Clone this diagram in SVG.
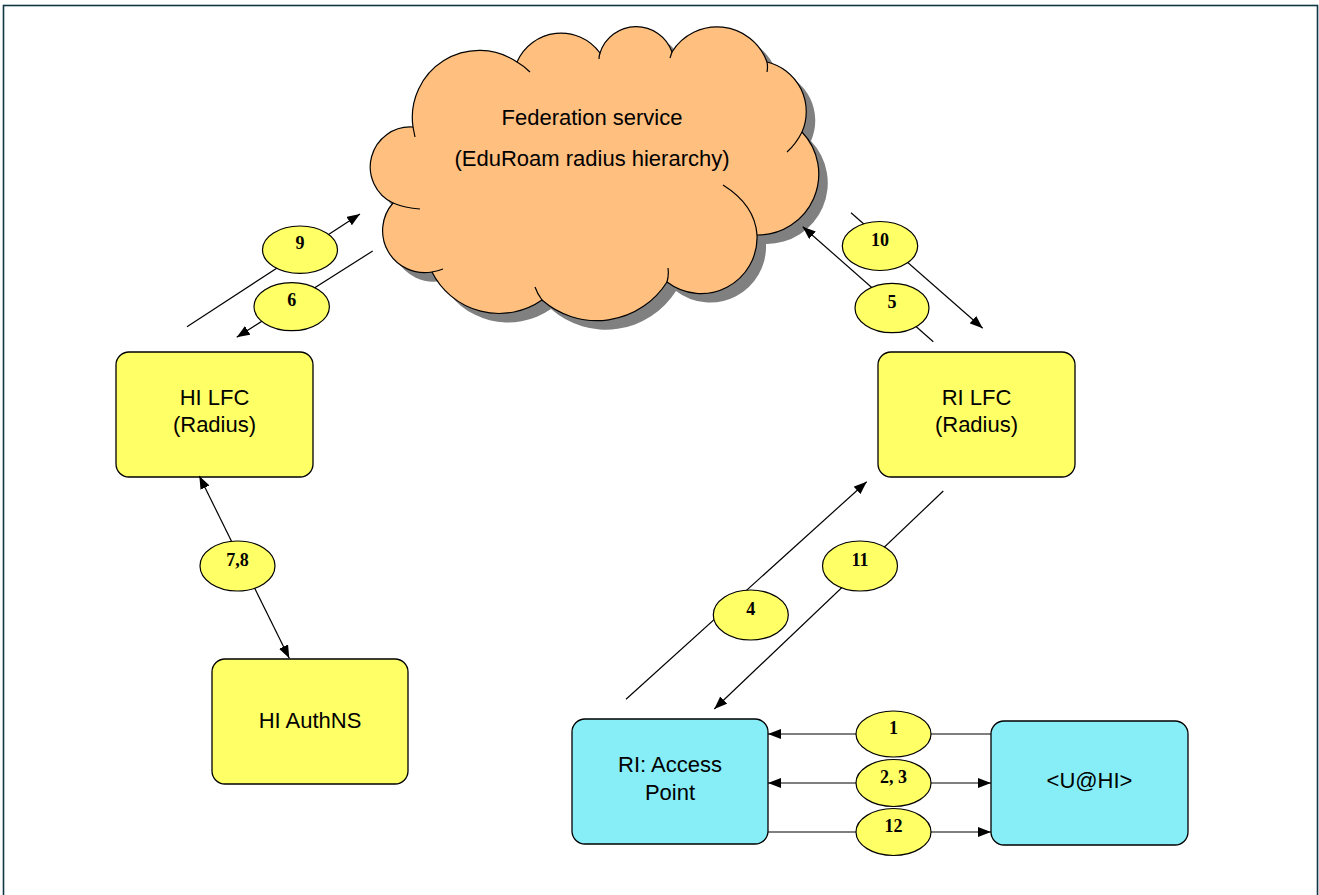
<svg xmlns="http://www.w3.org/2000/svg" width="1319" height="895" viewBox="0 0 1319 895">
<style>
.box{stroke:#000;stroke-width:1.3}
.yel{fill:#ffff66}
.cyan{fill:#87eef7}
.lbl{font-family:"Liberation Sans",Arial,sans-serif;font-size:22px;fill:#000;text-anchor:middle}
.num{font-family:"Liberation Serif","Times New Roman",serif;font-weight:bold;font-size:18px;fill:#000;text-anchor:middle}
.ell{fill:#ffff66;stroke:#000;stroke-width:1.2}
.con{fill:none;stroke:#000;stroke-width:1.2}
</style>
<defs>
<marker id="ah" viewBox="0 0 13 10" refX="13" refY="5" markerWidth="13" markerHeight="10" markerUnits="userSpaceOnUse" orient="auto-start-reverse">
<path d="M0,0 L13,5 L0,10 z" fill="#000"/>
</marker>
<path id="cloudShape" d="M413 127 A67 67 0 0 1 517 62 A48 48 0 0 1 600 53 A38 38 0 0 1 672 52 A53 53 0 0 1 767 62 A51 51 0 0 1 802 132 A61 61 0 0 1 757 235 A56 56 0 0 1 667 282 A83 83 0 0 1 542 300 A75 75 0 0 1 432 272 A42 42 0 0 1 393 203 A40 40 0 0 1 413 127 Z"/>
</defs>
<rect width="1319" height="895" fill="#fff"/>
<rect x="3.5" y="5.5" width="1314" height="900" fill="none" stroke="#0f3844" stroke-width="1.6"/>

<g id="cloud">
<use href="#cloudShape" transform="translate(9,9)" fill="#808080"/>
<use href="#cloudShape" fill="#ffbf7f" stroke="#000" stroke-width="1.2"/>
<path d="M413 127 Q414 132 415 137 M517 62 Q524 66 530 72 M600 53 Q599 56 599 59 M672 52 Q671 55 670 58 M767 62 Q768 67 767 72 M802 132 Q796 144 787 152 M757 235 Q755 205 723 185 M667 282 Q669 275 668 268 M542 300 Q537 293 535 287 M432 272 Q438 271 443 269 M393 203 Q405 208 420 209" fill="none" stroke="#000" stroke-width="1.2"/>
<text class="lbl" x="592" y="125">Federation service</text>
<text class="lbl" x="592" y="166">(EduRoam radius hierarchy)</text>
</g>

<g id="hi-lfc">
<rect class="box yel" x="116" y="352" width="197" height="125" rx="13"/>
<text class="lbl" x="214.5" y="405">HI LFC</text>
<text class="lbl" x="214.5" y="432">(Radius)</text>
</g>

<g id="ri-lfc">
<rect class="box yel" x="878" y="352" width="197" height="125" rx="13"/>
<text class="lbl" x="976.5" y="405">RI LFC</text>
<text class="lbl" x="976.5" y="432">(Radius)</text>
</g>

<g id="hi-authns">
<rect class="box yel" x="212" y="659" width="196" height="125" rx="13"/>
<text class="lbl" x="310" y="728">HI AuthNS</text>
</g>

<g id="ri-ap">
<rect class="box cyan" x="572" y="719" width="196" height="125" rx="13"/>
<text class="lbl" x="670" y="772">RI: Access</text>
<text class="lbl" x="670" y="800">Point</text>
</g>

<g id="user">
<rect class="box cyan" x="991" y="721" width="197" height="124" rx="13"/>
<text class="lbl" x="1089.5" y="788">&lt;U@HI&gt;</text>
</g>

<g id="connectors">
<line class="con" x1="187" y1="326.7" x2="360" y2="214" marker-end="url(#ah)"/>
<line class="con" x1="372.7" y1="251" x2="236.7" y2="337.3" marker-end="url(#ah)"/>
<line class="con" x1="851" y1="212.7" x2="982.7" y2="328.3" marker-end="url(#ah)"/>
<line class="con" x1="933.3" y1="341.7" x2="802.7" y2="226.7" marker-end="url(#ah)"/>
<line class="con" x1="626" y1="699.3" x2="866.7" y2="481.7" marker-end="url(#ah)"/>
<line class="con" x1="943.3" y1="491" x2="714.3" y2="709" marker-end="url(#ah)"/>
<line class="con" x1="199.3" y1="476" x2="289.3" y2="658.3" marker-start="url(#ah)" marker-end="url(#ah)"/>
<line class="con" x1="991" y1="734" x2="768" y2="734" marker-end="url(#ah)"/>
<line class="con" x1="768" y1="783" x2="991" y2="783" marker-start="url(#ah)" marker-end="url(#ah)"/>
<line class="con" x1="768" y1="832" x2="991" y2="832" marker-end="url(#ah)"/>
</g>

<g id="lbl-9"><ellipse class="ell" cx="300" cy="249.7" rx="37.5" ry="23.7"/><text class="num" x="300" y="249">9</text></g>
<g id="lbl-6"><ellipse class="ell" cx="291.7" cy="306.7" rx="37.7" ry="24"/><text class="num" x="291.7" y="306">6</text></g>
<g id="lbl-10"><ellipse class="ell" cx="880" cy="246" rx="37.7" ry="24.5"/><text class="num" x="880" y="245.5">10</text></g>
<g id="lbl-5"><ellipse class="ell" cx="892" cy="308" rx="37" ry="24.7"/><text class="num" x="892" y="307.5">5</text></g>
<g id="lbl-4"><ellipse class="ell" cx="750.8" cy="615" rx="37.5" ry="25"/><text class="num" x="750.8" y="614.5">4</text></g>
<g id="lbl-11"><ellipse class="ell" cx="860" cy="566" rx="37.5" ry="25"/><text class="num" x="860" y="565.5">11</text></g>
<g id="lbl-78"><ellipse class="ell" cx="237.5" cy="566" rx="37.5" ry="25"/><text class="num" x="237.5" y="565.5">7,8</text></g>
<g id="lbl-1"><ellipse class="ell" cx="893.5" cy="734" rx="37.5" ry="23"/><text class="num" x="893.5" y="734">1</text></g>
<g id="lbl-23"><ellipse class="ell" cx="893.5" cy="783" rx="37.5" ry="23.5"/><text class="num" x="893.5" y="783">2, 3</text></g>
<g id="lbl-12"><ellipse class="ell" cx="893.5" cy="832" rx="37.5" ry="23.5"/><text class="num" x="893.5" y="832">12</text></g>
</svg>
